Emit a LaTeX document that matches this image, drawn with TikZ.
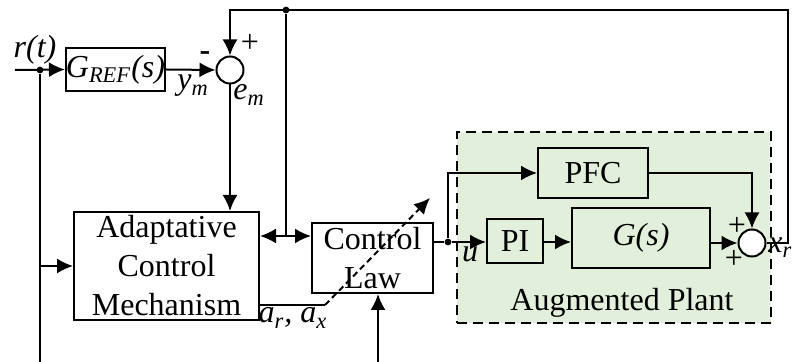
\documentclass[tikz,border=0pt]{standalone}
\usepackage{fontspec}
\setmainfont{Liberation Serif}
\usepackage{xcolor}
\usepackage{tikz}
\usetikzlibrary{positioning,arrows.meta}
\definecolor{plantGreen}{HTML}{E2EFDA}

\begin{document}
\begin{tikzpicture}[
    x=0.5pt, y=-0.5pt,
    box/.style={draw, line width=1pt, font=\fontsize{16}{19.5}\selectfont, align=center, inner sep=0pt},
    sumnode/.style={draw, circle, fill=white, line width=1pt, minimum size=13.5pt, inner sep=0pt},
    arrow/.style={-{Latex[length=8pt,width=7.5pt]}, line width=1pt},
    dblarrow/.style={{Latex[length=8pt,width=7.5pt]}-{Latex[length=8pt,width=7.5pt]}, line width=1pt},
    wire/.style={line width=1pt},
    lbl/.style={font=\fontsize{16}{19}\selectfont\itshape, inner sep=0pt},
    sgn/.style={font=\fontsize{16}{19}\selectfont, inner sep=0pt},
    dot/.style={circle, fill, inner sep=0pt, minimum size=3.4pt}
  ]
  \useasboundingbox (0,0) rectangle (793,362);

  % Augmented plant frame
  \node[draw, dashed, dash pattern=on 5pt off 3pt, line width=1pt, fill=plantGreen,
        minimum width=157pt, minimum height=95.5pt] (aug) at (614,227.5) {};
  \node[sgn] (augtxt) at (622,303) {Augmented Plant};

  % Reference model
  \node[box, minimum width=48.5pt, minimum height=21.5pt] (gref) at (115.5,69.5)
    {\textit{G}\textsubscript{\textit{REF}}\textit{(s)}};
  \node[sumnode] (sumref) at (230,70) {};

  % Adaptive part
  \node[box, minimum width=92.5pt, minimum height=54pt] (acm) at (166.5,266)
    {Adaptative\\Control\\Mechanism};
  \node[box, minimum width=60.5pt, minimum height=35pt] (claw) at (372.5,258)
    {Control\\Law};

  % Plant blocks
  \node[box, minimum width=28pt, minimum height=22pt] (pi) at (515,241) {PI};
  \node[box, minimum width=55pt, minimum height=25pt] (pfc) at (593,173) {PFC};
  \node[box, minimum width=69pt, minimum height=30pt] (plant) at (641,238) {\textit{G(s)}};
  \node[sumnode] (sumout) at (752,243) {};

  % Junctions
  \coordinate (rin) at (15,70);
  \node[dot] (rdot) at (40,70) {};
  \coordinate (rbot) at (40,362);
  \node[dot] (tdot) at (286,10) {};
  \coordinate (fbr) at (788,10);
  \coordinate (mid) at (286,236);
  \node[dot] (udot) at (448,242) {};
  \coordinate (akink) at (325,305);
  \coordinate (atip) at (430,198);
  \coordinate (cbot) at (378,362);

  % Connectors
  \draw[arrow] (rin) -- (gref.west);
  \draw[wire] (rdot) -- (rbot);
  \draw[arrow] (rdot |- acm.west) -- (acm.west);
  \draw[arrow] (gref.east) -- (sumref.west);
  \draw[arrow] (sumref.south) -- (sumref.south |- acm.north);
  \draw[arrow] (sumout.east) -| (fbr) -| (sumref.north);
  \draw[wire] (tdot) -- (mid);
  \draw[dblarrow] (acm.east |- mid) -- (claw.west |- mid);
  \draw[wire] (claw.east |- udot) -- (udot);
  \draw[arrow] (udot) -- (pi.west |- udot);
  \draw[arrow] (udot) |- (pfc.west);
  \draw[arrow] (pi.east |- udot) -- (plant.west |- udot);
  \draw[arrow] (plant.east |- sumout) -- (sumout.west);
  \draw[arrow] (pfc.east) -| (sumout.north);
  \draw[wire] (acm.east |- akink) -- (akink);
  \draw[arrow, dash pattern=on 3pt off 2pt] (akink) -- (atip);
  \draw[arrow] (cbot) -- (cbot |- claw.south);

  % Signal labels
  \node[lbl] (rlbl) at (35,50) {r(t)};
  \node[lbl] (ymlbl) at (193,86) {y\textsubscript{m}};
  \node[lbl] (emlbl) at (249,95) {e\textsubscript{m}};
  \node[sgn, font=\fontsize{16}{19}\selectfont\bfseries] (minus) at (205,56) {-};
  \node[sgn] (plusref) at (250,43) {+};
  \node[lbl] (alabel) at (293,318) {a\textsubscript{r}, a\textsubscript{x}};
  \node[lbl] (ulbl) at (470,254) {u};
  \node[sgn] (plustop) at (737,226) {+};
  \node[sgn] (plusbot) at (734,259) {+};
  \node[lbl, anchor=west] (xlbl) at (768,248) {x\textsubscript{r}};
\end{tikzpicture}
\end{document}
